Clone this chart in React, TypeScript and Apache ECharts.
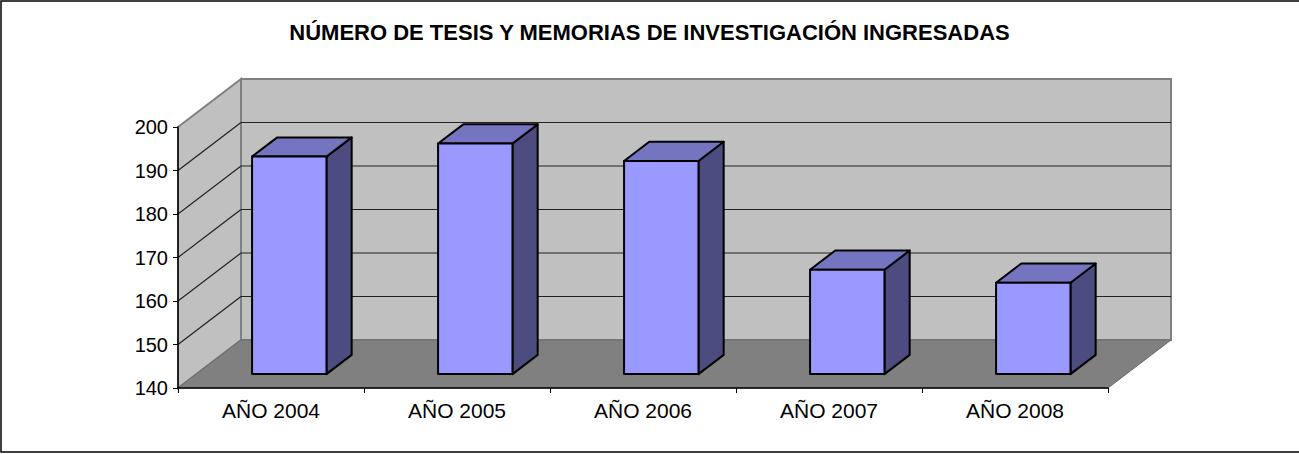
import React, { useEffect, useRef } from "react";
import * as echarts from "echarts";

const categories = ["AÑO 2004", "AÑO 2005", "AÑO 2006", "AÑO 2007", "AÑO 2008"];
const values = [190, 193, 189, 164, 161];
const yMin = 140;
const yMax = 200;
const yStep = 10;
const gridValues = [150, 160, 170, 180, 190];
const titleText = "NÚMERO DE TESIS Y MEMORIAS DE INVESTIGACIÓN INGRESADAS";

// depth projection (pixels) and bar layout fractions
const DX = 63;
const DY = -48;
const F0 = 0.29;
const FD = 0.4;
const BAR_FRAC = 0.4;

const FONT = "'Liberation Sans', Arial, sans-serif";

export default function App() {
  const ref = useRef<HTMLDivElement>(null);
  useEffect(() => {
    document.body.style.margin = "0";
    document.body.style.overflow = "hidden";
    const chart = echarts.init(ref.current!, null, { renderer: "svg" });

    const wallsRender = (params: any, api: any) => {
      const band = api.size([1, 0])[0];
      const L = api.coord([0, yMin])[0] - band / 2;
      const R = api.coord([categories.length - 1, yMin])[0] + band / 2;
      const yB = api.coord([0, yMin])[1];
      const yT = api.coord([0, yMax])[1];
      const children: any[] = [];
      children.push({
        type: "rect",
        shape: { x: L + DX, y: yT + DY, width: R - L, height: yB - yT },
        style: { fill: "#C0C0C0", stroke: "#808080", lineWidth: 2 },
      });
      children.push({
        type: "polygon",
        shape: { points: [[L, yT], [L + DX, yT + DY], [L + DX, yB + DY], [L, yB]] },
        style: { fill: "#C0C0C0", stroke: "#808080", lineWidth: 2 },
      });
      gridValues.forEach((v) => {
        const y = api.coord([0, v])[1];
        children.push({
          type: "line",
          shape: { x1: L + DX, y1: y + DY, x2: R + DX, y2: y + DY },
          style: { stroke: "#222", lineWidth: 1.2 },
        });
        children.push({
          type: "line",
          shape: { x1: L, y1: y, x2: L + DX, y2: y + DY },
          style: { stroke: "#222", lineWidth: 1.2 },
        });
      });
      children.push({
        type: "polygon",
        shape: { points: [[L, yB], [L + DX, yB + DY], [R + DX, yB + DY], [R, yB]] },
        style: { fill: "#808080", stroke: "#6a6a6a", lineWidth: 1 },
      });
      return { type: "group", children };
    };

    const barsRender = (params: any, api: any) => {
      const idx = api.value(0);
      const v = api.value(1);
      const band = api.size([1, 0])[0];
      const cx = api.coord([idx, yMin])[0];
      const yb0 = api.coord([idx, yMin])[1];
      const yt0 = api.coord([idx, v])[1];
      const w = band * BAR_FRAC;
      const x0 = cx - w / 2 + F0 * DX;
      const x1 = x0 + w;
      const yb = yb0 + F0 * DY;
      const yt = yt0 + F0 * DY;
      const dX = FD * DX;
      const dY = FD * DY;
      const stroke = { stroke: "#000", lineWidth: 2, lineJoin: "round" };
      return {
        type: "group",
        children: [
          {
            type: "polygon",
            shape: { points: [[x1, yt], [x1 + dX, yt + dY], [x1 + dX, yb + dY], [x1, yb]] },
            style: { fill: "#4C4C80", ...stroke },
          },
          {
            type: "polygon",
            shape: { points: [[x0, yt], [x0 + dX, yt + dY], [x1 + dX, yt + dY], [x1, yt]] },
            style: { fill: "#7474C0", ...stroke },
          },
          {
            type: "rect",
            shape: { x: x0, y: yt, width: w, height: yb - yt },
            style: { fill: "#9999FF", ...stroke },
          },
        ],
      };
    };

    chart.setOption({
      animation: false,
      backgroundColor: "#fff",
      title: {
        text: titleText,
        left: "center",
        top: 16,
        textStyle: { fontFamily: FONT, fontSize: 22, fontWeight: "bold", color: "#000" },
      },
      grid: { left: 178, right: 191, top: 127, bottom: 66 },
      xAxis: {
        type: "category",
        data: categories,
        z: 10,
        axisLine: { show: true, lineStyle: { color: "#000", width: 1.5 } },
        axisTick: { show: true, length: 5, lineStyle: { color: "#000" } },
        axisLabel: { fontFamily: FONT, fontSize: 21, color: "#000", margin: 12 },
        splitLine: { show: false },
      },
      yAxis: {
        type: "value",
        min: yMin,
        max: yMax,
        interval: yStep,
        z: 10,
        axisLine: { show: true, lineStyle: { color: "#000", width: 1.5 } },
        axisTick: { show: true, length: 5, lineStyle: { color: "#000" } },
        axisLabel: { fontFamily: FONT, fontSize: 20, color: "#000", margin: 10 },
        splitLine: { show: false },
      },
      graphic: [
        {
          type: "rect",
          shape: { x: 1, y: 1, width: 1310, height: 451 },
          style: { fill: "none", stroke: "#000", lineWidth: 1.5 },
          silent: true,
        },
      ],
      series: [
        {
          type: "custom",
          name: "walls",
          renderItem: wallsRender,
          data: [[0, yMin]],
          silent: true,
          z: 1,
        },
        {
          type: "custom",
          name: "tesis",
          renderItem: barsRender,
          data: values.map((v, i) => [i, v]),
          encode: { x: 0, y: 1 },
          z: 3,
        },
      ],
    });
    return () => chart.dispose();
  }, []);
  return <div ref={ref} style={{ width: 1299, height: 454 }} />;
}
